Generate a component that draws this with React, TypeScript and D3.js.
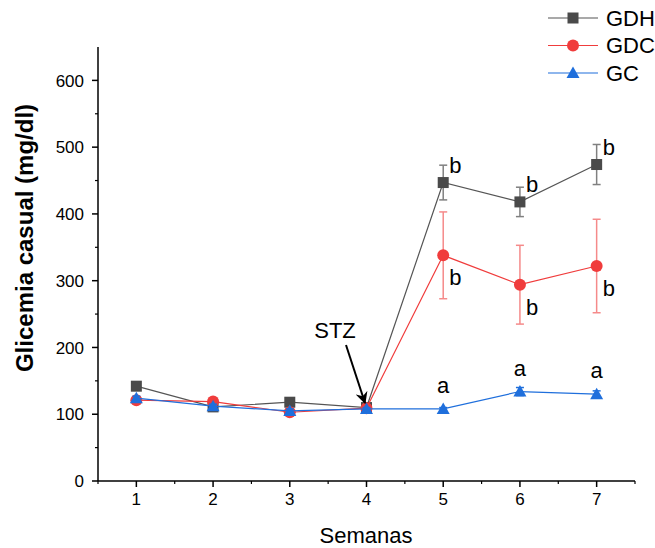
import React from "react";
import * as d3 from "d3";

const weeks = [1, 2, 3, 4, 5, 6, 7];
const gdhValues = [142, 111, 118, 110, 447, 418, 474];
const gdhErrors = [0, 0, 0, 0, 26, 22, 30];
const gdcValues = [121, 119, 103, 109, 338, 294, 322];
const gdcErrors = [0, 0, 0, 0, 65, 59, 70];
const gcValues = [124, 112, 105, 108, 108, 134, 130];
const gcErrors = [3, 3, 3, 2, 2, 6, 5];
const gdhLetters = ["", "", "", "", "b", "b", "b"];
const gdcLetters = ["", "", "", "", "b", "b", "b"];
const gcLetters = ["", "", "", "", "a", "a", "a"];
const yTicks = [0, 100, 200, 300, 400, 500, 600];
const yMinorTicks = [50, 150, 250, 350, 450, 550];
const xMinorTicks = [0.5, 1.5, 2.5, 3.5, 4.5, 5.5, 6.5, 7.5];
const seriesNames = ["GDH", "GDC", "GC"];

const FONT = "Liberation Sans, Arial, sans-serif";

export default function App() {
  const x = d3.scaleLinear().domain([0.5, 7.5]).range([98, 635]);
  const y = d3.scaleLinear().domain([0, 650]).range([481, 47]);
  const line = d3
    .line<number>()
    .x((_, i) => x(weeks[i]))
    .y((d) => y(d));

  const series = [
    { name: seriesNames[0], vals: gdhValues, errs: gdhErrors, line: "#555555", mark: "#4a4a4a", err: "#808080", shape: "square" },
    { name: seriesNames[1], vals: gdcValues, errs: gdcErrors, line: "#f03c3c", mark: "#f03c3c", err: "#f58a8a", shape: "circle" },
    { name: seriesNames[2], vals: gcValues, errs: gcErrors, line: "#1f6fdc", mark: "#1f6fdc", err: "#1f6fdc", shape: "triangle" },
  ];

  const marker = (shape: string, cx: number, cy: number, color: string, key: string) => {
    if (shape === "square") return <rect key={key} x={cx - 5.5} y={cy - 5.5} width={11} height={11} fill={color} />;
    if (shape === "circle") return <circle key={key} cx={cx} cy={cy} r={6} fill={color} />;
    return <path key={key} d={`M${cx},${cy - 6.5}L${cx + 6.5},${cy + 5}L${cx - 6.5},${cy + 5}Z`} fill={color} />;
  };

  return (
    <svg width={655} height={548} style={{ position: "absolute", left: 0, top: 0, background: "#fff" }} fontFamily={FONT}>
      {/* axes */}
      <line x1={98} x2={98} y1={47} y2={481} stroke="#000" strokeWidth={1.5} />
      <line x1={98} x2={635} y1={481} y2={481} stroke="#000" strokeWidth={1.5} />
      {yTicks.map((t) => (
        <g key={"yt" + t}>
          <line x1={92} x2={98} y1={y(t)} y2={y(t)} stroke="#000" strokeWidth={1.5} />
          <text x={84} y={y(t)} dy="0.36em" textAnchor="end" fontSize={17}>{t}</text>
        </g>
      ))}
      {yMinorTicks.map((t) => (
        <line key={"ym" + t} x1={95} x2={98} y1={y(t)} y2={y(t)} stroke="#000" strokeWidth={1.2} />
      ))}
      {weeks.map((t) => (
        <g key={"xt" + t}>
          <line x1={x(t)} x2={x(t)} y1={481} y2={487} stroke="#000" strokeWidth={1.5} />
          <text x={x(t)} y={505} textAnchor="middle" fontSize={17}>{t}</text>
        </g>
      ))}
      {xMinorTicks.map((t) => (
        <line key={"xm" + t} x1={x(t)} x2={x(t)} y1={481} y2={484} stroke="#000" strokeWidth={1.2} />
      ))}
      <text x={366} y={543} textAnchor="middle" fontSize={22}>Semanas</text>
      <text transform="translate(33,238) rotate(-90)" textAnchor="middle" fontSize={24} fontWeight="bold">
        Glicemia casual (mg/dl)
      </text>

      {/* series */}
      {series.map((s) => (
        <g key={s.name}>
          {s.vals.map((v, i) =>
            s.errs[i] > 0 ? (
              <g key={"e" + i} stroke={s.err} strokeWidth={1.5}>
                <line x1={x(weeks[i])} x2={x(weeks[i])} y1={y(v - s.errs[i])} y2={y(v + s.errs[i])} />
                <line x1={x(weeks[i]) - 4} x2={x(weeks[i]) + 4} y1={y(v - s.errs[i])} y2={y(v - s.errs[i])} />
                <line x1={x(weeks[i]) - 4} x2={x(weeks[i]) + 4} y1={y(v + s.errs[i])} y2={y(v + s.errs[i])} />
              </g>
            ) : null
          )}
          <path d={line(s.vals) || ""} fill="none" stroke={s.line} strokeWidth={1.2} />
          {s.vals.map((v, i) => marker(s.shape, x(weeks[i]), y(v), s.mark, s.name + i))}
        </g>
      ))}

      {/* significance letters */}
      {gdhValues.map((v, i) =>
        gdhLetters[i] ? (
          <text key={"lh" + i} x={x(weeks[i]) + 6} y={y(v) - 10} fontSize={22}>{gdhLetters[i]}</text>
        ) : null
      )}
      {gdcValues.map((v, i) =>
        gdcLetters[i] ? (
          <text key={"lc" + i} x={x(weeks[i]) + 6} y={y(v) + 30} fontSize={22}>{gdcLetters[i]}</text>
        ) : null
      )}
      {gcValues.map((v, i) =>
        gcLetters[i] ? (
          <text key={"la" + i} x={x(weeks[i])} y={y(v) - 16} textAnchor="middle" fontSize={22}>{gcLetters[i]}</text>
        ) : null
      )}

      {/* STZ annotation */}
      <defs>
        <marker id="arr" viewBox="0 0 10 10" refX={9} refY={5} markerWidth={6} markerHeight={6} orient="auto">
          <path d="M0,0L10,5L0,10L3,5Z" fill="#000" />
        </marker>
      </defs>
      <text x={335} y={338} textAnchor="middle" fontSize={22}>STZ</text>
      <line x1={346} x2={365} y1={345} y2={403} stroke="#000" strokeWidth={2} markerEnd="url(#arr)" />

      {/* legend */}
      {series.map((s, i) => (
        <g key={"lg" + s.name}>
          <line x1={548} x2={598} y1={18 + i * 27.5} y2={18 + i * 27.5} stroke={s.line} strokeWidth={1.2} />
          {marker(s.shape, 573, 18 + i * 27.5, s.mark, "lm" + i)}
          <text x={606} y={18 + i * 27.5} dy="0.36em" fontSize={22}>{s.name}</text>
        </g>
      ))}
    </svg>
  );
}
